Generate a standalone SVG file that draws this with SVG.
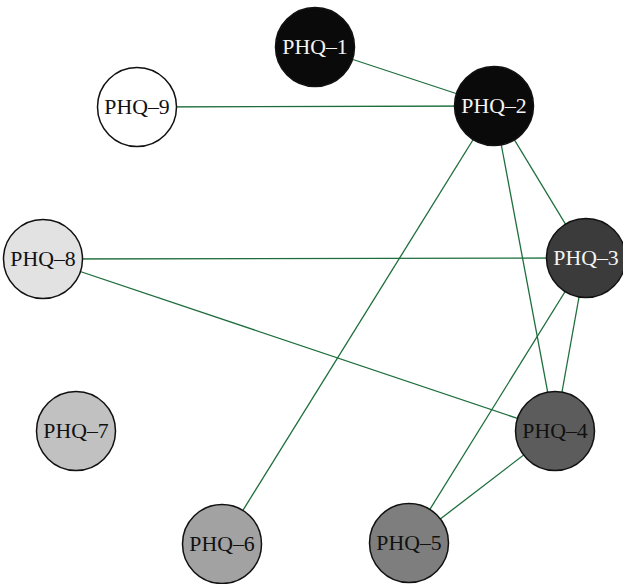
<svg xmlns="http://www.w3.org/2000/svg" width="623" height="584" viewBox="0 0 623 584">
  <style>
    .edge { stroke: #1e6e3c; stroke-width: 1.3; fill: none; }
    .node circle { stroke: #111; stroke-width: 1.5; }
    .node text { font-family: "Liberation Serif", "DejaVu Serif", serif; font-size: 21.8px; text-anchor: middle; dominant-baseline: central; }
    .dark text { fill: #f4f4f4; }
    .light text { fill: #111; }
  </style>
  <rect width="623" height="584" fill="#fff"/>
  <g id="connectors">
    <line class="edge" x1="315" y1="47" x2="494" y2="106"/>
    <line class="edge" x1="137" y1="107" x2="494" y2="106"/>
    <line class="edge" x1="494" y1="106" x2="586" y2="258"/>
    <line class="edge" x1="494" y1="106" x2="555" y2="431"/>
    <line class="edge" x1="494" y1="106" x2="222" y2="544"/>
    <line class="edge" x1="43" y1="259" x2="586" y2="258"/>
    <line class="edge" x1="43" y1="259" x2="555" y2="431"/>
    <line class="edge" x1="586" y1="258" x2="555" y2="431"/>
    <line class="edge" x1="586" y1="258" x2="409" y2="543"/>
    <line class="edge" x1="555" y1="431" x2="409" y2="543"/>
  </g>
  <g id="PHQ-1" class="node dark"><circle cx="315" cy="47" r="39.5" fill="#0a0a0a"/><text x="315" y="47">PHQ–1</text></g>
  <g id="PHQ-2" class="node dark"><circle cx="494" cy="106" r="39.5" fill="#0a0a0a"/><text x="494" y="106">PHQ–2</text></g>
  <g id="PHQ-3" class="node dark"><circle cx="586" cy="258" r="39.5" fill="#3a3b3a"/><text x="586" y="258">PHQ–3</text></g>
  <g id="PHQ-4" class="node light"><circle cx="555" cy="431" r="39.5" fill="#5b5c5b"/><text x="555" y="431">PHQ–4</text></g>
  <g id="PHQ-5" class="node light"><circle cx="409" cy="543" r="39.5" fill="#7d7e7d"/><text x="409" y="543">PHQ–5</text></g>
  <g id="PHQ-6" class="node light"><circle cx="222" cy="544" r="39.5" fill="#a2a2a2"/><text x="222" y="544">PHQ–6</text></g>
  <g id="PHQ-7" class="node light"><circle cx="76" cy="431" r="39.5" fill="#c1c1c1"/><text x="76" y="431">PHQ–7</text></g>
  <g id="PHQ-8" class="node light"><circle cx="43" cy="259" r="39.5" fill="#e2e2e2"/><text x="43" y="259">PHQ–8</text></g>
  <g id="PHQ-9" class="node light"><circle cx="137" cy="107" r="39.5" fill="#ffffff"/><text x="137" y="107">PHQ–9</text></g>
</svg>
